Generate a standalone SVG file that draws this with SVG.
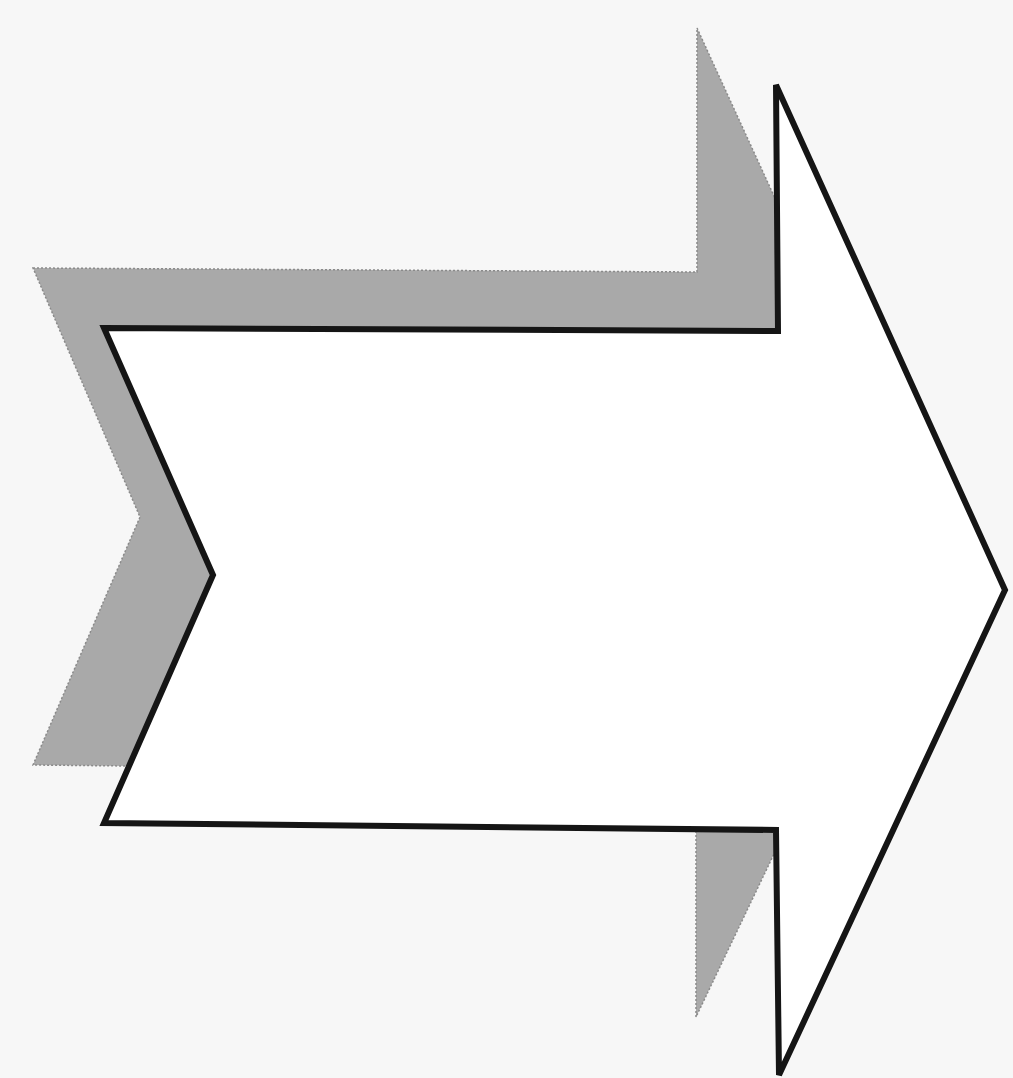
<svg xmlns="http://www.w3.org/2000/svg" width="1013" height="1078" viewBox="0 0 1013 1078">
  <style>
    .shadow { fill: #a9a9a9; stroke: #8a8a8a; stroke-width: 1.5; stroke-dasharray: 2 2; }
    .arrow { fill: #ffffff; stroke: #151515; stroke-width: 6; stroke-linejoin: miter; }
  </style>
  <rect x="0" y="0" width="1013" height="1078" fill="#f7f7f7"/>
  <g id="shadow">
    <polygon class="shadow" points="33,268 697,272 697,28 928,532 696,1017 696,772 33,765 140,517"/>
  </g>
  <g id="arrow">
    <polygon class="arrow" points="104,328 778,331 776,85 1005,590 779,1075 776,830 104,823 213,575"/>
  </g>
</svg>
